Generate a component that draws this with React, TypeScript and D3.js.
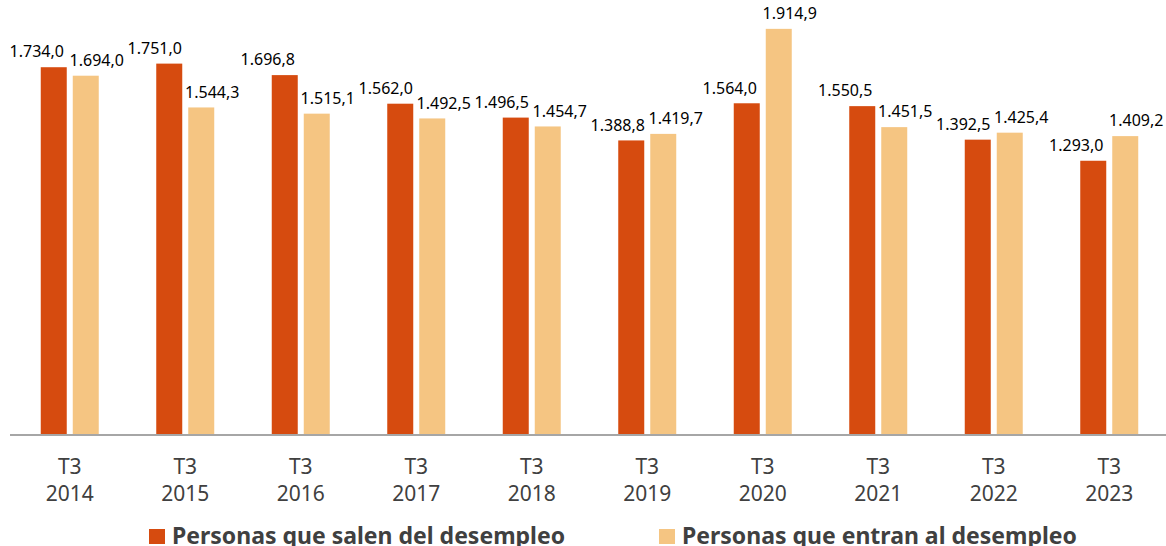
import React from 'react';
import * as d3 from 'd3';

// T3 de cada año, miles de personas
const years = ['2014', '2015', '2016', '2017', '2018', '2019', '2020', '2021', '2022', '2023'];
const salen = [1734.0, 1751.0, 1696.8, 1562.0, 1496.5, 1388.8, 1564.0, 1550.5, 1392.5, 1293.0];
const entran = [1694.0, 1544.3, 1515.1, 1492.5, 1454.7, 1419.7, 1914.9, 1451.5, 1425.4, 1409.2];
const seriesNames = ['Personas que salen del desempleo', 'Personas que entran al desempleo'];
const colors = ['#D64B0F', '#F5C582'];

const W = 1166;
const H = 546;
const baseY = 435;

const fmt = (v: number) => {
  const [int, dec] = v.toFixed(1).split('.');
  return int.replace(/\B(?=(\d{3})+(?!\d))/g, '.') + ',' + dec;
};

const App = () => {
  const x = d3.scaleBand<string>().domain(years).range([12, 1167]).paddingInner(0).paddingOuter(0);
  const y = d3.scaleLinear().domain([0, 2000]).range([baseY, baseY - 424.2]);
  const barW = 26;
  const gap = 6;
  const labelW = 54;

  // bars, then data labels laid out left to right so neighbours don't collide
  const bars: { s: number; v: number; bx: number }[] = [];
  years.forEach((yr, i) => {
    const cx = (x(yr) as number) + x.bandwidth() / 2;
    bars.push({ s: 0, v: salen[i], bx: cx - gap / 2 - barW });
    bars.push({ s: 1, v: entran[i], bx: cx + gap / 2 });
  });
  const labelDx = [-17, 11];
  let prev: { right: number; y: number } | null = null;
  const labels = bars.map((b) => {
    let lx = b.bx + barW / 2 + labelDx[b.s];
    const ly = y(b.v) - 14;
    if (prev && Math.abs(prev.y - ly) < 18 && lx - labelW / 2 < prev.right + 4) {
      lx = prev.right + 4 + labelW / 2;
    }
    prev = { right: lx + labelW / 2, y: ly };
    return { lx, ly, text: fmt(b.v) };
  });

  return (
    <svg width={W} height={H} style={{ position: 'absolute', left: 0, top: 0, background: '#fff' }}>
      {bars.map((b, i) => (
        <rect key={i} x={b.bx} y={y(b.v)} width={barW} height={baseY - y(b.v)} fill={colors[b.s]} />
      ))}
      {labels.map((l, i) => (
        <text
          key={i}
          x={l.lx}
          y={l.ly}
          textAnchor="middle"
          dominantBaseline="middle"
          fontFamily="'Noto Sans', sans-serif"
          fontSize={16}
          fill="#000"
        >
          {l.text}
        </text>
      ))}
      <line x1={10} x2={1166} y1={baseY} y2={baseY} stroke="#A6A6A6" strokeWidth={2} />
      {years.map((yr) => {
        const cx = (x(yr) as number) + x.bandwidth() / 2;
        return (
          <g key={yr} fontFamily="'Noto Sans', sans-serif" fontSize={21} fill="#404040" textAnchor="middle">
            <text x={cx} y={468} dominantBaseline="middle">T3</text>
            <text x={cx} y={495} dominantBaseline="middle">{yr}</text>
          </g>
        );
      })}
      {seriesNames.map((name, s) => {
        const lx = s === 0 ? 149 : 659;
        return (
          <g key={name}>
            <rect x={lx} y={529} width={16} height={15} fill={colors[s]} />
            <text
              x={lx + 23}
              y={544}
              fontFamily="'Noto Sans', sans-serif"
              fontWeight="bold"
              fontSize={23}
              fill="#404040"
            >
              {name}
            </text>
          </g>
        );
      })}
    </svg>
  );
};

export default App;
